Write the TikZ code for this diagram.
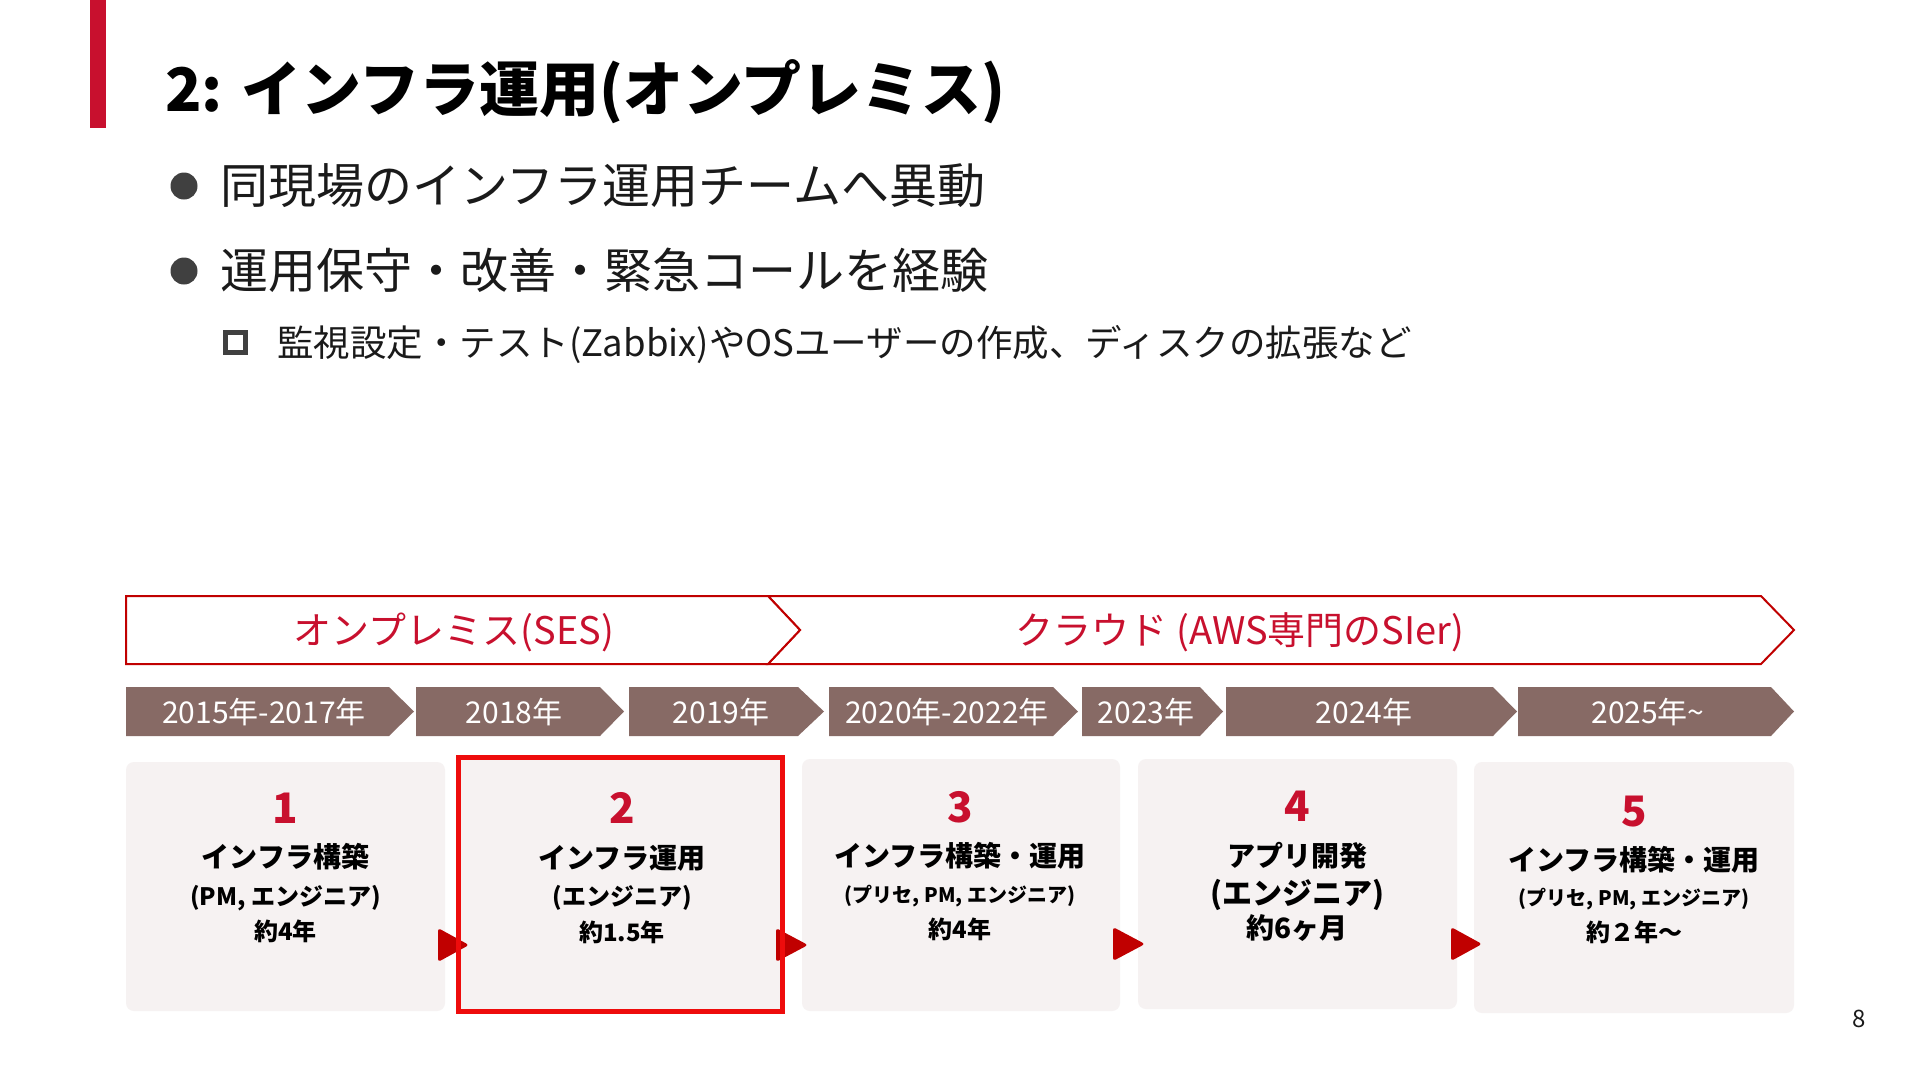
\documentclass[tikz,border=0pt]{standalone}
\usepackage{fontspec}
\setmainfont{Noto Sans CJK JP}
\usetikzlibrary{calc}
\definecolor{crim}{RGB}{200,16,46}
\definecolor{dred}{RGB}{192,0,0}
\definecolor{brn}{RGB}{135,106,101}
\definecolor{cardbg}{RGB}{246,242,242}
\definecolor{hired}{RGB}{238,12,12}
\definecolor{bul}{RGB}{64,64,64}
\definecolor{ink}{RGB}{26,26,26}
\newcommand{\fsz}[1]{\fontsize{#1}{#1}\selectfont}
\tikzset{
  txt/.style={inner sep=0pt, anchor=base},
  ttl/.style={txt, anchor=base west, font=\fsz{60}\bfseries, text=black},
  bl/.style={txt, anchor=base west, font=\fsz{48}, text=ink},
  sbl/.style={txt, anchor=base west, font=\fsz{36.5}, text=ink},
  phase/.style={draw=dred, line width=2pt, fill=white, line join=miter},
  phtxt/.style={txt, font=\fsz{38}, text=crim},
  yr/.style={fill=brn},
  yrtxt/.style={txt, font=\fsz{30}, text=white},
  card/.style={fill=cardbg, rounded corners=8pt, inner sep=0pt},
  num/.style={txt, font=\fsz{42}\bfseries, text=crim},
  ctitle/.style={txt, font=\fsz{28}\bfseries, text=black},
  csub/.style={txt, font=\fsz{24}\bfseries, text=black},
  csmall/.style={txt, font=\fsz{20}\bfseries, text=black},
  tri/.style={fill=dred, rounded corners=3pt},
}
\begin{document}
\begin{tikzpicture}[x=1pt,y=-1pt]
\useasboundingbox[fill=white] (0,0) rectangle (1920,1080);

% title bar and title
\fill[crim] (90,0) rectangle (106,128);
\node[ttl] (title) at (165,111) {2: インフラ運用(オンプレミス)};

% bullets
\fill[bul] (184,186) circle (13.5);
\node[bl] (b1) at (220,203) {同現場のインフラ運用チームへ異動};
\fill[bul] (184,271) circle (13.5);
\node[bl] (b2) at (220,288) {運用保守・改善・緊急コールを経験};
\draw[bul, line width=5pt] (225.5,332.5) rectangle (245.5,352.5);
\node[sbl] (b3) at (277,356) {監視設定・テスト(Zabbix)やOSユーザーの作成、ディスクの拡張など};

% phase chevrons
\draw[phase] (768,596) -- (1761,596) -- (1794,630) -- (1761,664) -- (768,664) -- (800,630) -- cycle;
\draw[phase] (126,596) -- (768,596) -- (800,630) -- (768,664) -- (126,664) -- cycle;
\node[phtxt] (p1) at (454,644) {オンプレミス(SES)};
\node[phtxt] (p2) at (1240,644) {クラウド (AWS専門のSIer)};

% year chevrons
\foreach \a/\b/\c/\t/\l [count=\i] in {
  126/389/414/264/2015年-2017年,
  416/600/624/514/2018年,
  629/798/824/721/2019年,
  829/1053/1078/947/2020年-2022年,
  1082/1200/1223/1146/2023年,
  1226/1493/1517/1364/2024年,
  1518/1771/1794/1648/2025年\textasciitilde}{
  \fill[yr] (\a,687) -- (\b,687) -- (\c,711.5) -- (\b,736) -- (\a,736) -- cycle;
  \node[yrtxt] (y\i) at (\t,723) {\l};
}

% cards
\node[card, minimum width=319pt, minimum height=249pt] (c1) at (285.5,886.5) {};
\node[card, minimum width=323pt, minimum height=253pt] (c2) at (620.5,884.5) {};
\node[card, minimum width=318pt, minimum height=252pt] (c3) at (961,885) {};
\node[card, minimum width=319pt, minimum height=250pt] (c4) at (1297.5,884) {};
\node[card, minimum width=320pt, minimum height=251pt] (c5) at (1634,887.5) {};

% arrows between cards
\fill[tri] (438,928) -- (469,945) -- (438,962) -- cycle;
\fill[tri] (776,928) -- (808,945) -- (776,962) -- cycle;
\fill[tri] (1113,927) -- (1145,944) -- (1113,961) -- cycle;
\fill[tri] (1451,927) -- (1482,944) -- (1451,961) -- cycle;

% highlight border of card 2
\draw[hired, line width=5pt] (c2.north west) rectangle (c2.south east);

% card texts
\node[num] (n1) at (285.5,823.5) {1};
\node[ctitle] (t1) at (285.5,867.5) {インフラ構築};
\node[csub] (s1) at (285.5,905) {(PM, エンジニア)};
\node[csub] (d1) at (285.5,940) {約4年};

\node[num] (n2) at (622,823.5) {2};
\node[ctitle] (t2) at (622,868) {インフラ運用};
\node[csub] (s2) at (622,905) {(エンジニア)};
\node[csub] (d2) at (622,941) {約1.5年};

\node[num] (n3) at (960,822.5) {3};
\node[ctitle] (t3) at (960,866.5) {インフラ構築・運用};
\node[csmall] (s3) at (960,902.5) {(プリセ, PM, エンジニア)};
\node[csub] (d3) at (960,938.5) {約4年};

\node[num] (n4) at (1297,821.5) {4};
\node[ctitle] (t4) at (1297,866.5) {アプリ開発};
\node[txt, font=\fsz{30}\bfseries] (s4) at (1297,904) {(エンジニア)};
\node[txt, font=\fsz{28}\bfseries] (d4) at (1297,938.5) {約6ヶ月};

\node[num] (n5) at (1634,826.5) {5};
\node[ctitle] (t5) at (1634,870.5) {インフラ構築・運用};
\node[csmall] (s5) at (1634,905.5) {(プリセ, PM, エンジニア)};
\node[csub] (d5) at (1634,941) {約２年～};

% page number
\node[txt, font=\fsz{24}, text=ink] (pg) at (1859,1027) {8};
\end{tikzpicture}
\end{document}
